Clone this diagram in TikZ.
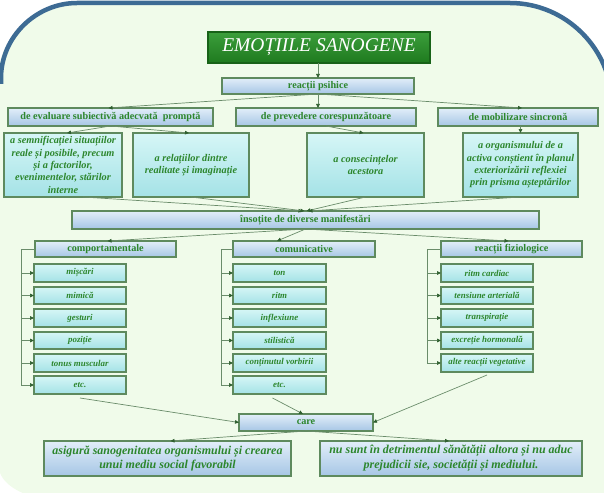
\documentclass[tikz,border=0pt]{standalone}
\usepackage{fontspec}
\setmainfont{Liberation Serif}
\usetikzlibrary{arrows.meta,shadows}
\definecolor{bgc}{HTML}{F0FBEA}
\definecolor{rimc}{HTML}{3D6B94}
\definecolor{txtg}{HTML}{2C862C}
\definecolor{edgeg}{HTML}{5E8A5E}
\definecolor{lineg}{HTML}{6A8C6A}
\definecolor{tipg}{HTML}{2F5F2F}
\definecolor{ttop}{HTML}{3C9E3C}
\definecolor{tbot}{HTML}{1E7A1E}
\definecolor{btop}{HTML}{E2EEF9}
\definecolor{bbot}{HTML}{A6C6E5}
\definecolor{ctop}{HTML}{D6F6F6}
\definecolor{cbot}{HTML}{A4E2E6}
\newcommand\bx[7]{%
 \pgfmathsetmacro\bxcx{(#3+#5)/2}\pgfmathsetmacro\bxcy{(#4+#6)/2}%
 \pgfmathsetmacro\bxw{#5-#3}\pgfmathsetmacro\bxh{#6-#4}%
 \node[#1, minimum width=\bxw pt, minimum height=\bxh pt] (#2) at (\bxcx,\bxcy) {#7};}
\tikzset{
 basebox/.style={draw=edgeg, line width=1.1pt, inner sep=0pt, outer sep=0pt, align=center,
   drop shadow={shadow xshift=1pt, shadow yshift=-1.2pt, fill=black!28}},
 titlebox/.style={basebox, draw=tbot!80!black, top color=ttop, bottom color=tbot, text=white,
   font=\fontsize{19.5}{21}\selectfont\itshape},
 headbox/.style={basebox, top color=btop, bottom color=bbot, text=txtg,
   font=\fontsize{10.2}{11}\selectfont\bfseries},
 bottombox/.style={basebox, top color=btop, bottom color=bbot, text=txtg,
   font=\fontsize{12}{14.8}\selectfont\bfseries\itshape},
 bigcyan/.style={basebox, top color=ctop, bottom color=cbot, text=txtg,
   font=\fontsize{10.3}{12.3}\selectfont\bfseries\itshape},
 smallcyan/.style={basebox, top color=ctop, bottom color=cbot, text=txtg,
   font=\fontsize{8.9}{9.5}\selectfont\bfseries\itshape},
 conn/.style={draw=lineg, line width=0.7pt, -{Triangle[length=4pt,width=3.6pt,color=tipg]}},
 plain/.style={draw=lineg, line width=0.7pt}
}
\begin{document}
\begin{tikzpicture}[x=1pt,y=-1pt]
\useasboundingbox (0,0) rectangle (604,492);
\clip (0,0) rectangle (604,492);
% background panel
\fill[bgc] (-2,462) -- (-2,78) .. controls (-2,37) and (36,3) .. (77,3) -- (510,3)
  .. controls (566,3) and (612,49) .. (612,105) -- (612,500) -- (42,500)
  .. controls (15,492) and (-2,482) .. (-2,462) -- cycle;
\draw[rimc, line width=4.5pt] (1,84) -- (1,78) .. controls (1,37) and (36,3) .. (77,3) -- (510,3)
  .. controls (566,3) and (612,49) .. (612,105);
% nodes
\bx{titlebox}{title}{208}{32}{430}{63}{EMOȚIILE SANOGENE}
\bx{headbox}{psi}{222}{78}{414}{94}{reacții psihice}
\bx{headbox}{eval}{8}{108}{213}{126}{de evaluare subiectivă adecvată\ \ promptă}
\bx{headbox}{prev}{236}{108}{416}{126}{de prevedere corespunzătoare}
\bx{headbox}{mob}{438}{108}{598}{126}{de mobilizare sincronă}
\bx{bigcyan}{semn}{4}{133}{122}{197}{a semnificației situațiilor\\reale și posibile, precum\\și a factorilor,\\evenimentelor, stărilor\\interne}
\bx{bigcyan}{rel}{133}{133}{249}{197}{a relațiilor dintre\\realitate și imaginație}
\bx{bigcyan}{cons}{307}{133}{424}{197}{a consecințelor\\acestora}
\bx{bigcyan}{org}{463}{133}{578}{197}{a organismului de a\\activa conștient în planul\\exteriorizării reflexiei\\prin prisma așteptărilor}
\bx{headbox}{ins}{72}{211}{539}{229}{însoțite de diverse manifestări}
\bx{headbox}{comp}{35}{241}{176}{257}{comportamentale}
\bx{headbox}{com}{233}{241}{375}{257}{comunicative}
\bx{headbox}{fiz}{441}{241}{582}{257}{reacții fiziologice}
% children
\bx{smallcyan}{a1}{34}{264}{126}{282}{mișcări}
\bx{smallcyan}{a2}{34}{287}{126}{304}{mimică}
\bx{smallcyan}{a3}{34}{309}{126}{327}{gesturi}
\bx{smallcyan}{a4}{34}{332}{126}{349}{poziție}
\bx{smallcyan}{a5}{34}{354}{126}{372}{tonus muscular}
\bx{smallcyan}{a6}{34}{376}{126}{394}{etc.}
\bx{smallcyan}{b1}{233}{264}{326}{282}{ton}
\bx{smallcyan}{b2}{233}{287}{326}{304}{ritm}
\bx{smallcyan}{b3}{233}{309}{326}{327}{inflexiune}
\bx{smallcyan}{b4}{233}{332}{326}{349}{stilistică}
\bx{smallcyan}{b5}{233}{354}{326}{372}{conținutul vorbirii}
\bx{smallcyan}{b6}{233}{376}{326}{394}{etc.}
\bx{smallcyan}{c1}{441}{264}{533}{282}{ritm cardiac}
\bx{smallcyan}{c2}{441}{287}{533}{304}{tensiune arterială}
\bx{smallcyan}{c3}{441}{309}{533}{327}{transpirație}
\bx{smallcyan}{c4}{441}{332}{533}{349}{excreție hormonală}
\bx{smallcyan}{c5}{441}{354}{533}{372}{alte reacții vegetative}
\bx{headbox}{care}{239}{414}{373}{431}{care}
\bx{bottombox}{fa}{44}{441}{291}{476}{asigură sanogenitatea organismului și crearea\\unui mediu social favorabil}
\bx{bottombox}{fb}{320}{441}{582}{476}{nu sunt în detrimentul sănătății altora și nu aduc\\prejudicii sie, societății și mediului.}
% connectors
\draw[conn] (title.south -| psi.north) -- (psi.north);
\draw[conn] (psi.south) -- ([xshift=-2pt]eval.north);
\draw[conn] (psi.south) -- (psi.south |- prev.north);
\draw[conn] (psi.south) -- ([xshift=4pt]mob.north);
\draw[conn] (eval.south) -- ([xshift=4pt]semn.north);
\draw[conn] (eval.south) -- ([xshift=-2pt]rel.north);
\draw[conn] (prev.south) -- ([xshift=-2pt]cons.north);
\draw[conn] (mob.south -| org.north) -- (org.north);
\draw[conn] ([xshift=20pt]semn.south) -- ([xshift=-3pt]ins.north);
\draw[conn] (rel.south) -- ([xshift=-1pt]ins.north);
\draw[conn] (cons.south) -- ([xshift=1pt]ins.north);
\draw[conn] (org.south) -- ([xshift=3pt]ins.north);
\draw[conn] (ins.south) -- ([xshift=2pt]comp.north);
\draw[conn] (ins.south) -- ([xshift=-27pt]com.north);
\draw[conn] (ins.south) -- ([xshift=-3pt]fiz.north);
% brackets
\draw[plain] (comp.west) -- ++(-14,0) coordinate (ka) -- (ka |- a6.west);
\foreach \n in {a1,a2,a3,a4,a5,a6} \draw[conn] (ka |- \n.west) -- (\n.west);
\draw[plain] (com.west) -- ++(-12,0) coordinate (kb) -- (kb |- b6.west);
\foreach \n in {b1,b2,b3,b4,b5,b6} \draw[conn] (kb |- \n.west) -- (\n.west);
\draw[plain] (fiz.west) -- ++(-14,0) coordinate (kc) -- (kc |- c5.west);
\foreach \n in {c1,c2,c3,c4,c5} \draw[conn] (kc |- \n.west) -- (\n.west);
% to care
\draw[conn] ([yshift=-4pt]a6.south) -- (care.west);
\draw[conn] ([xshift=-7pt,yshift=-4pt]b6.south) -- ([xshift=-3pt]care.north);
\draw[conn] ([yshift=-3pt]c5.south) -- (care.east);
\draw[conn] (care.south) -- ([xshift=3pt]fa.north);
\draw[conn] (care.south) -- ([xshift=-2pt]fb.north);
\end{tikzpicture}
\end{document}
